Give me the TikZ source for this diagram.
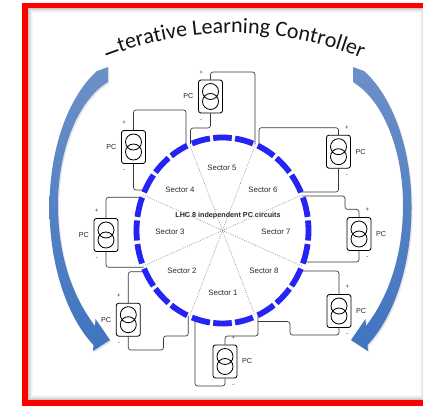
\documentclass[tikz,border=0pt]{standalone}
\usepackage{fontspec}
\setmainfont{Liberation Sans}
\newfontfamily\titlefont{Carlito}
\usetikzlibrary{decorations.text,shadows}

\definecolor{framered}{RGB}{255,0,0}
\definecolor{ringblue}{RGB}{36,36,245}
\definecolor{arrowlight}{RGB}{108,144,200}
\definecolor{arrowdark}{RGB}{64,116,192}
\definecolor{wirecol}{RGB}{55,55,55}
\definecolor{textcol}{RGB}{40,40,40}
\definecolor{titlecol}{RGB}{20,20,20}

\tikzset{
  pcbox/.style={draw=black, line width=0.85pt, rounded corners=2.5pt,
    minimum width=24pt, minimum height=33pt, inner sep=0pt,
    path picture={
      \draw[line width=0.85pt]
        ([yshift=5pt]path picture bounding box.center) circle[radius=8pt]
        ([yshift=-5pt]path picture bounding box.center) circle[radius=8pt];}},
  pcname/.style={font=\fontsize{7.2}{8}\selectfont, text=textcol, inner sep=0pt},
  sign/.style={font=\fontsize{6}{7}\selectfont, text=textcol, inner sep=0pt},
  wire/.style={draw=wirecol, line width=0.65pt, rounded corners=2.5pt},
  ringdash/.style={draw=ringblue, line width=5.8pt},
  divider/.style={draw=black!55, line width=0.55pt, dash pattern=on 0.7pt off 1.3pt},
  sectorlabel/.style={font=\fontsize{7.8}{9}\selectfont, text=textcol, inner sep=0pt},
  centerlabel/.style={font=\bfseries\fontsize{7.2}{9}\selectfont, text=textcol, inner sep=0pt},
  bigarrow/.style={top color=arrowlight, bottom color=arrowdark, draw=none,
    drop shadow={opacity=0.2, shadow xshift=1.2pt, shadow yshift=-1.6pt}},
}

\begin{document}
\begin{tikzpicture}[x=1pt,y=-1pt]
\useasboundingbox (0,0) rectangle (423,406);
\fill[white] (0,0) rectangle (423,406);

% red frame with a soft inner shadow
\foreach \d/\o in {3.5/0.22,4.5/0.15,5.5/0.10,6.5/0.06,7.5/0.03}
  \draw[black, opacity=\o, line width=1pt] (25+\d,5.5+\d) rectangle (428-\d,403-\d);
\draw[framered, line width=5.5pt] (25,5.5) rectangle (428,403);

% title on an arc
\node[rotate=-70, inner sep=0pt, font=\titlefont\fontsize{21}{21}\selectfont, text=titlecol] (title-i) at (112,53) {I};
\path[decorate, decoration={text along path, text align=left, text color=titlecol,
    text={|\titlefont\fontsize{22}{22}\selectfont|terative Learning Controller}}]
  (233,373) ++(-109.4:340) arc[start angle=-109.4, end angle=-55, radius=340];

% curved feedback arrows
\path[bigarrow] (108,67) -- (108,82)
  .. controls (78,100) and (58,150) .. (58,205)
  .. controls (58,260) and (75,300) .. (95,326)
  -- (95.5,319) -- (110,340) -- (93,351) -- (93.5,345)
  .. controls (66,316) and (49,262) .. (49.5,205)
  .. controls (50,145) and (70,95) .. (97,71) -- cycle;
\path[bigarrow] (353,67) -- (353,82)
  .. controls (383,100) and (403,150) .. (403,205)
  .. controls (403,260) and (386,300) .. (366,326)
  -- (365.5,319) -- (351,340) -- (368,351) -- (367.5,345)
  .. controls (395,316) and (412,262) .. (411.5,205)
  .. controls (411,145) and (391,95) .. (364,71) -- cycle;

% ring centre and sector dividers
\coordinate (O) at (222.5,230.5);
\foreach \a in {22.5,67.5,...,337.5}
  \draw[divider] (O) -- ++(\a:86 and 93);

% sector names
\node[sectorlabel] (s5) at (222,168) {Sector 5};
\node[sectorlabel] (s4) at (180,190) {Sector 4};
\node[sectorlabel] (s6) at (263,190) {Sector 6};
\node[sectorlabel] (s3) at (170,232) {Sector 3};
\node[sectorlabel] (s7) at (276,232) {Sector 7};
\node[sectorlabel] (s2) at (182,271) {Sector 2};
\node[sectorlabel] (s8) at (264,271) {Sector 8};
\node[sectorlabel] (s1) at (223,293) {Sector 1};
\node[centerlabel] (lhc) at (228,216) {LHC 8 independent PC circuits};

% power converters
\node[pcbox] (pc1) at (225,361.5) {};
\node[pcbox] (pc2) at (128.3,319.7) {};
\node[pcbox] (pc3) at (106,235) {};
\node[pcbox] (pc4) at (133.5,147) {};
\node[pcbox] (pc5) at (210.5,96.5) {};
\node[pcbox] (pc6) at (338.5,151.7) {};
\node[pcbox] (pc7) at (359,234) {};
\node[pcbox] (pc8) at (339,311) {};

\foreach \p in {pc2,pc3,pc4,pc5}{
  \node[pcname, anchor=east] (\p-name) at ([xshift=-4.5pt]\p.west) {PC};
  \node[sign] (\p-plus) at ([xshift=3pt,yshift=7pt]\p.north west) {+};
  \node[sign] (\p-minus) at ([xshift=3pt,yshift=-7pt]\p.south west) {-};
}
\foreach \p in {pc1,pc6,pc7,pc8}{
  \node[pcname, anchor=west] (\p-name) at ([xshift=4.5pt]\p.east) {PC};
  \node[sign] (\p-plus) at ([xshift=-4pt,yshift=7pt]\p.north east) {+};
  \node[sign] (\p-minus) at ([xshift=-4pt,yshift=-7pt]\p.south east) {-};
}

% wire ends on the ring
\coordinate (w1p) at (258,315);
\coordinate (w1m) at (195,318.6);
\coordinate (w2p) at (145.4,271.7);
\coordinate (w2m) at (188.3,315.8);
\coordinate (w3p) at (142.2,197.3);
\coordinate (w3m) at (143.5,267.3);
\coordinate (w4p) at (186,146.3);
\coordinate (w4m) at (145,190);
\coordinate (w5p) at (255,144.4);
\coordinate (w5m) at (190.5,144.2);
\coordinate (w6p) at (259,146.3);
\coordinate (w6m) at (300.8,192);
\coordinate (w7p) at (302.4,196);
\coordinate (w7m) at (303.4,262);
\coordinate (w8p) at (299.9,271);
\coordinate (w8m) at (258,321.5);

% converter leads
\draw[wire] (pc1.north) |- (258,336) -- (w1p);
\draw[wire] (pc1.south) |- (195,386) -- (w1m);
\draw[wire] (pc2.north) |- (w2p);
\draw[wire] (pc2.south) |- (163.5,350) |- (188.3,336) -- (w2m);
\draw[wire] (pc3.north) |- (w3p);
\draw[wire] (pc3.south) |- (w3m);
\draw[wire] (pc4.north) |- (186,110) -- (w4p);
\draw[wire] (pc4.south) |- (w4m);
\draw[wire] (pc5.north) |- (255,72) -- (w5p);
\draw[wire] (pc5.south) |- (190.5,128) -- (w5m);
\draw[wire] (pc6.north) |- (259,127.7) -- (w6p);
\draw[wire] (pc6.south) |- (w6m);
\draw[wire] (pc7.north) |- (345,209.3) |- (w7p);
\draw[wire] (pc7.south) |- (w7m);
\draw[wire] (pc8.north) |- (w8p);
\draw[wire] (pc8.south) |- (290,335) |- (w8m);

% segmented ring, three segments per sector
\foreach \k in {0,...,7}{
  \foreach \j in {0,1,2}{
    \pgfmathsetmacro\sa{22.5+45*\k+1.7+14.6*\j}
    \pgfmathsetmacro\ea{\sa+12.4}
    \draw[ringdash] (O) ++(\sa:86 and 93) arc[start angle=\sa, end angle=\ea, x radius=86, y radius=93];
  }
}
\end{tikzpicture}
\end{document}
